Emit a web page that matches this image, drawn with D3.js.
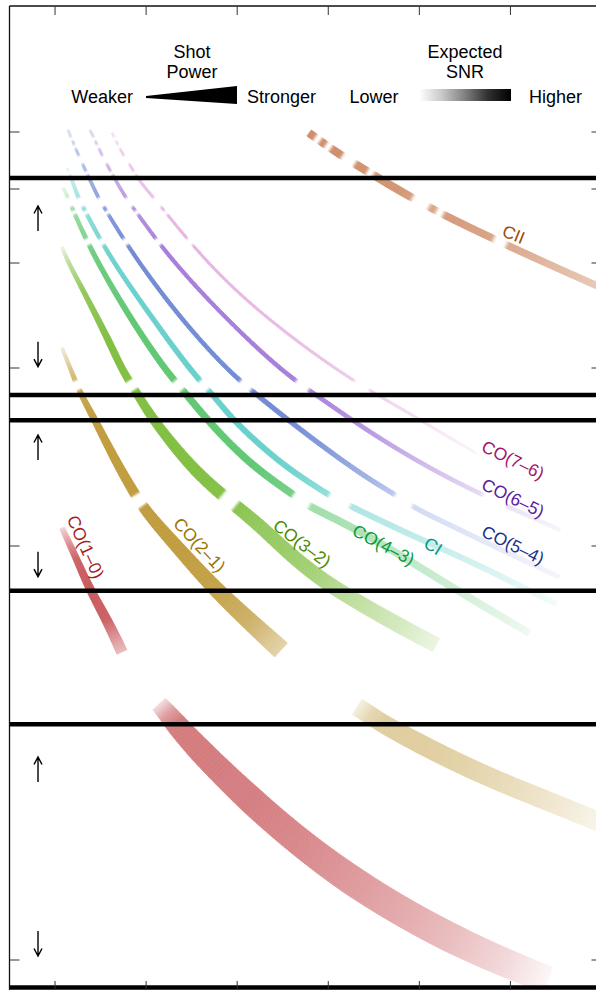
<!DOCTYPE html>
<html>
<head>
<meta charset="utf-8">
<script src="https://cdn.jsdelivr.net/npm/d3@7/dist/d3.min.js"></script>
<style>
  body { margin: 0; background: #fff; }
  svg { display: block; font-family: "Liberation Sans", Arial, Helvetica, sans-serif; }
</style>
</head>
<body>
<svg id="chart" width="596" height="990"></svg>
<script>
// x: redshift-like axis in tick units, y: observing band position (arbitrary units, downward = lower freq)
// every point: [x, y, shot power, expected SNR]
const co10Upper = [[1.077,52.2,1.7,.25],[1.164,53.9,2.0,.7],[1.241,55.4,2.2,.95],[1.384,58.4,2.7,1],[1.571,61.4,3.2,.95],[1.735,64.6,3.7,.4]];
const co10Lower = [[2.142,69.8,5.7,.2],[2.241,70.8,6.3,.6],[2.328,71.8,7,.8],[2.592,74.5,8,.8],[3.141,79.4,9,.78],[3.690,83.7,9.3,.72],[4.239,87.4,9.7,.62],[4.788,90.5,9.7,.52],[5.337,93.2,9.7,.4],[5.887,95.5,9.3,.25],[6.414,97.4,9,.05]];
const co21Upper = [[1.077,34.2,1,.2],[1.175,36.4,1.3,.6],[1.274,38.7,1.7,.9],[1.439,41.4,2.2,1],[1.659,45.4,2.8,1],[1.911,49.4,3.3,1],[2.076,51.4,3.7,1],[2.372,54.4,4.3,1],[2.735,58.1,5,.95],[3.119,61.4,5.7,.8],[3.482,64.4,6.3,.45]];
const co21Lower = [[4.316,70.1,6,.15],[4.459,70.9,6,.4],[4.580,71.7,6,.5],[5.008,73.8,6.3,.5],[5.447,75.8,6.3,.45],[5.887,77.6,6.3,.37],[6.436,79.6,6.3,.25],[7.007,81.7,6.3,.1]];
const co32 = [[1.077,24.1,1,.15],[1.142,25.6,1.2,.5],[1.307,28.4,1.5,.85],[1.604,33.7,2.2,1],[1.735,36.4,2.3,1],[1.911,38.9,2.7,1],[2.076,41.4,3,1],[2.515,46.4,3.7,1],[2.900,49.4,4,.95],[3.218,51.7,4.3,.85],[3.504,54.2,4.5,.8],[3.800,56.5,4.7,.72],[4.130,58.6,4.8,.55],[4.744,61.8,5,.35],[5.184,63.9,5,.15]];
const co43 = [[1.088,18.2,1,.15],[1.131,18.9,1,.3],[1.186,20.2,1.2,.6],[1.417,24.9,1.5,.9],[1.823,31.2,1.8,1],[2.208,36.4,2,1],[2.449,38.9,2.2,1],[2.669,41.4,2.2,1],[3.141,45.9,2.3,1],[3.657,49.1,2.3,.85],[3.756,49.9,2.3,.6],[4.130,51.5,2.3,.55],[4.635,54.0,2.3,.45],[5.403,58.4,2.3,.3],[6.205,62.7,2.3,.1]];
const ci = [[1.131,16.2,.8,.15],[1.186,17.4,1,.4],[1.252,19.1,1.2,.6],[1.307,20.1,1.2,.7],[1.582,24.9,1.3,.95],[2.043,30.9,1.5,1],[2.482,36.4,1.7,1],[2.735,38.9,1.7,1],[2.954,41.4,1.8,1],[3.273,44.1,1.8,1],[3.580,46.4,1.8,.95],[4.020,49.0,1.8,.7],[4.217,49.9,1.8,.55],[4.788,52.4,1.8,.45],[5.184,54.0,1.8,.38],[5.667,56.0,1.8,.28],[6.106,58.0,1.8,.18],[6.502,59.8,1.8,.08]];
const co54 = [[1.142,12.4,.7,.25],[1.241,14.6,.8,.5],[1.307,15.9,.8,.55],[1.384,17.4,1,.7],[1.472,19.1,1,.8],[1.516,19.8,1,.85],[1.856,24.9,1.2,1],[2.372,31.2,1.3,1],[2.889,36.4,1.3,1],[3.218,38.9,1.5,1],[3.558,41.4,1.5,1],[4.020,44.6,1.5,.85],[4.459,47.4,1.5,.65],[4.744,48.9,1.5,.45],[4.942,50.2,1.5,.32],[5.337,51.9,1.5,.25],[5.810,54.0,1.5,.18],[6.535,57.1,1.5,.08]];
const co65 = [[1.384,12.4,.7,.3],[1.516,14.9,.8,.5],[1.571,15.9,.8,.55],[1.768,19.1,1,.75],[1.878,20.4,1,.85],[2.230,24.9,1.2,1],[2.812,30.7,1.2,1],[3.471,36.4,1.3,1],[3.866,38.9,1.3,.95],[4.415,42.4,1.3,.8],[5.008,45.7,1.3,.55],[5.634,48.7,1.3,.3],[6.546,52.4,1.3,.08]];
const co76 = [[1.626,12.7,.7,.3],[1.746,14.9,.7,.5],[1.823,15.9,.7,.55],[1.933,17.6,.8,.6],[2.076,19.1,.8,.65],[2.175,20.2,.8,.7],[2.592,24.9,.8,.75],[3.086,29.4,.8,.7],[3.690,33.8,.8,.65],[4.305,37.7,.8,.5],[4.887,40.7,.8,.35],[5.151,42.2,.8,.25],[5.623,44.7,.8,.12]];
const cii = [[3.789,12.7,2.5,.95],[4.020,14.2,2.5,.95],[4.239,15.5,2.5,.95],[4.514,17.0,2.5,.9],[4.788,18.5,2.5,.9],[5.063,19.9,2.3,.7],[5.337,21.2,2.3,.85],[5.612,22.4,2.3,.8],[5.887,23.6,2.3,.75],[6.436,25.9,2.2,.6],[7.007,28.2,2.2,.45]];

// atmospheric absorption features (y ranges blanked out)
const atmGaps = [[13.25,13.4],[14.0,14.15],[15.1,15.7],[16.65,16.8],[19.3,20.0],[20.6,20.75],[23.4,23.8],[37.6,38.3],[49.0,49.9]];
const bandEdges = [17.2, 38.9, 41.43, 58.47, 71.83, 98.15];
const upArrows = [20.0, 42.9, 75.1];
const downArrows = [36.07, 57.07, 95.0];
const xTicks = [1, 2, 3, 4, 5, 6];
const yTicks = [12.6, 18.3, 25.7, 36.2, 54.0, 95.4];

const lineNames = ['CO(1–0)', 'CO(2–1)', 'CO(3–2)', 'CO(4–3)', 'CI', 'CO(5–4)', 'CO(6–5)', 'CO(7–6)', 'CII'];
const lineSegments = [[co10Upper, co10Lower], [co21Upper, co21Lower], [co32], [co43], [ci], [co54], [co65], [co76], [cii]];
const bandColors = ['#c8565a', '#bf9a3a', '#7dbd3c', '#5cc66f', '#64cfca', '#6f88d4', '#a47ad8', '#dc98d8', '#cc8660'];
const textColors = ['#a51c1c', '#9c7400', '#4c8c00', '#0a9a3a', '#009688', '#1c2f8f', '#5a1a9c', '#a3166e', '#a04808'];
// label anchors [x, y, angle]
const labelSpots = [[1.335,54.1,66],[2.587,53.9,47],[3.712,53.75,37],[4.607,53.9,28],[5.151,54.0,32],[6.029,53.9,26],[6.029,49.2,26],[6.029,45.4,26],[6.035,22.85,22]];

const svg = d3.select('#chart');
const W = 596, H = 990;

const x = d3.scaleLinear().domain([0.5, 7]).range([9.5, 601.5]);
const y = d3.scaleLinear().domain([0, 98.4]).range([6, 990]);
const widthScale = d3.scaleLinear().domain([0, 10]).range([0, 30]);

svg.append('defs').append('clipPath').attr('id', 'plotclip')
    .append('rect').attr('x', x(0.5)).attr('y', y(0)).attr('width', x(7) - x(0.5)).attr('height', y(98.4) - y(0));

const ramp = 0.2;
function gapFactor(v) {
    let f = 1;
    atmGaps.forEach(([a, b]) => {
        if (v >= a && v <= b) f = 0;
        else if (v < a && a - v < ramp) f = Math.min(f, (a - v) / ramp);
        else if (v > b && v - b < ramp) f = Math.min(f, (v - b) / ramp);
    });
    return f;
}

const line = d3.line().curve(d3.curveBasis);
const bands = svg.append('g').attr('clip-path', 'url(#plotclip)');

function drawBand(data, color) {
    const pts = data.map(d => [x(d[0]), y(d[1])]);
    const tmp = bands.append('path').attr('d', line(pts)).attr('fill', 'none');
    const node = tmp.node();
    const L = node.getTotalLength();
    tmp.remove();

    const cum = [0];
    for (let i = 1; i < pts.length; i++) {
        cum.push(cum[i - 1] + Math.hypot(pts[i][0] - pts[i - 1][0], pts[i][1] - pts[i - 1][1]));
    }
    const fr = cum.map(c => c / cum[cum.length - 1]);
    const wI = d3.scaleLinear().domain(fr).range(data.map(d => widthScale(d[2])));
    const aI = d3.scaleLinear().domain(fr).range(data.map(d => d[3]));

    const n = Math.ceil(L / 1.2);
    const s = d3.range(n + 1).map(i => {
        const p = node.getPointAtLength(L * i / n);
        return { x: p.x, y: p.y, f: i / n };
    });
    s.forEach((p, i) => {
        const a = s[Math.max(0, i - 1)], b = s[Math.min(n, i + 1)];
        const dx = b.x - a.x, dy = b.y - a.y, len = Math.hypot(dx, dy) || 1;
        p.nx = -dy / len; p.ny = dx / len;
        p.w = wI(p.f) / 2;
        p.a = Math.max(0, Math.min(1, aI(p.f))) * gapFactor(y.invert(p.y));
    });

    const quads = d3.range(n).map(i => {
        const p = s[i], q = s[i + 1];
        return {
            pts: [[p.x + p.nx * p.w, p.y + p.ny * p.w], [q.x + q.nx * q.w, q.y + q.ny * q.w],
                  [q.x - q.nx * q.w, q.y - q.ny * q.w], [p.x - p.nx * p.w, p.y - p.ny * p.w]],
            c: d3.interpolateRgb('#ffffff', color)((p.a + q.a) / 2)
        };
    });

    bands.append('g').selectAll('polygon')
        .data(quads)
        .join('polygon')
        .attr('points', d => d.pts.map(p => p.join(',')).join(' '))
        .attr('fill', d => d.c)
        .attr('stroke', d => d.c)
        .attr('stroke-width', 0.6);
}

lineSegments.forEach((segs, i) => segs.forEach(seg => drawBand(seg, bandColors[i])));

// band edges
svg.append('g').selectAll('line')
    .data(bandEdges)
    .join('line')
    .attr('x1', x(0.5)).attr('x2', x(7))
    .attr('y1', d => y(d)).attr('y2', d => y(d))
    .attr('stroke', '#000').attr('stroke-width', 4.5);

// frame
svg.append('line').attr('x1', x(0.5)).attr('x2', x(0.5)).attr('y1', y(0)).attr('y2', H)
    .attr('stroke', '#111').attr('stroke-width', 1.3);
svg.append('line').attr('x1', x(0.5)).attr('x2', x(7)).attr('y1', y(0)).attr('y2', y(0))
    .attr('stroke', '#111').attr('stroke-width', 1.5);

const ticks = svg.append('g').attr('stroke', '#333').attr('stroke-width', 1);
xTicks.forEach(t => {
    ticks.append('line').attr('x1', x(t)).attr('x2', x(t)).attr('y1', y(0)).attr('y2', y(0) + 9);
    ticks.append('line').attr('x1', x(t)).attr('x2', x(t)).attr('y1', H).attr('y2', H - 9);
});
yTicks.forEach(t => {
    ticks.append('line').attr('x1', x(0.5)).attr('x2', x(0.5) + 10).attr('y1', y(t)).attr('y2', y(t));
    ticks.append('line').attr('x1', x(7)).attr('x2', x(7) - 10).attr('y1', y(t)).attr('y2', y(t));
});

// band range arrows
const arrows = svg.append('g').attr('stroke', '#000').attr('stroke-width', 1.4).attr('fill', 'none');
const ax = x(0.813);
upArrows.forEach(t => {
    const ty = y(t);
    arrows.append('path').attr('d', `M${ax},${ty + 25}V${ty}M${ax - 4},${ty + 7.5}L${ax},${ty}L${ax + 4},${ty + 7.5}`);
});
downArrows.forEach(t => {
    const ty = y(t);
    arrows.append('path').attr('d', `M${ax},${ty - 25}V${ty}M${ax - 4},${ty - 7.5}L${ax},${ty}L${ax + 4},${ty - 7.5}`);
});

// line labels
svg.append('g').selectAll('text')
    .data(lineNames)
    .join('text')
    .attr('transform', (d, i) => `translate(${x(labelSpots[i][0])},${y(labelSpots[i][1])}) rotate(${labelSpots[i][2]})`)
    .attr('text-anchor', 'middle')
    .attr('dominant-baseline', 'central')
    .attr('font-size', 17.5)
    .attr('fill', (d, i) => textColors[i])
    .text(d => d);

// legend
const leg = svg.append('g').attr('font-size', 18).attr('fill', '#000');
leg.append('text').attr('x', 192).attr('y', 57.5).attr('text-anchor', 'middle').text('Shot');
leg.append('text').attr('x', 192).attr('y', 77.5).attr('text-anchor', 'middle').text('Power');
leg.append('text').attr('x', 133).attr('y', 102.5).attr('text-anchor', 'end').text('Weaker');
leg.append('polygon').attr('points', '146,96 237,86 237,104 146,98').attr('fill', '#000');
leg.append('text').attr('x', 247).attr('y', 102.5).text('Stronger');

const grad = svg.select('defs').append('linearGradient').attr('id', 'snrgrad');
[[0, '#ffffff'], [0.25, '#c8c8c8'], [0.5, '#808080'], [0.75, '#303030'], [1, '#000000']]
    .forEach(([o, c]) => grad.append('stop').attr('offset', o).attr('stop-color', c));
leg.append('text').attr('x', 465).attr('y', 57.5).attr('text-anchor', 'middle').text('Expected');
leg.append('text').attr('x', 465).attr('y', 77.5).attr('text-anchor', 'middle').text('SNR');
leg.append('text').attr('x', 374).attr('y', 102.5).attr('text-anchor', 'middle').text('Lower');
leg.append('rect').attr('x', 419).attr('y', 89).attr('width', 92).attr('height', 12).attr('fill', 'url(#snrgrad)');
leg.append('text').attr('x', 529).attr('y', 102.5).text('Higher');
</script>
</body>
</html>
